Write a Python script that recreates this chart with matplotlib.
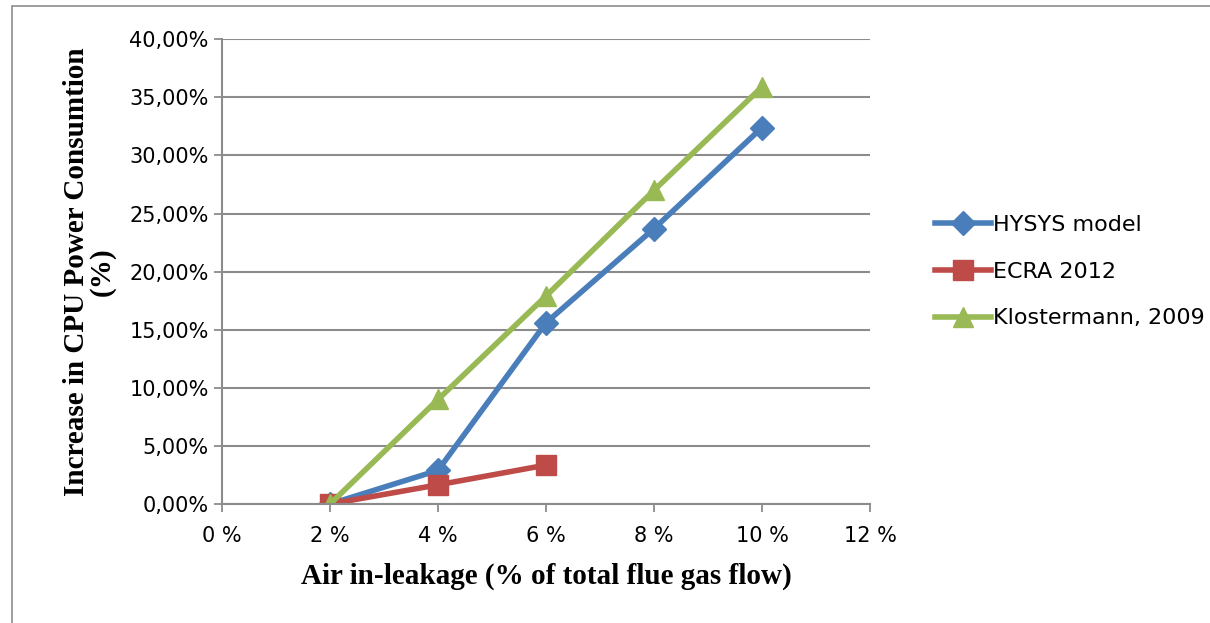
import matplotlib.pyplot as plt
from matplotlib.ticker import FuncFormatter
from matplotlib.patches import Rectangle

# data
air_leak = [2, 4, 6, 8, 10]
hysys = [0.0, 2.9, 15.6, 23.7, 32.4]
ecra_x = [2, 4, 6]
ecra = [0.0, 1.65, 3.35]
kloster = [0.0, 9.0, 17.9, 27.0, 35.9]

blue = '#4a7ebb'
red = '#be4b48'
green = '#98b954'

fig = plt.figure(figsize=(12.1, 6.23), dpi=100)
ax = fig.add_axes([0.1835, 0.191, 0.5355, 0.746])

ax.plot(air_leak, hysys, color=blue, lw=4, marker='D', ms=12, label='HYSYS model')
ax.plot(ecra_x, ecra, color=red, lw=4, marker='s', ms=14, label='ECRA 2012')
ax.plot(air_leak, kloster, color=green, lw=4, marker='^', ms=15, label='Klostermann, 2009')

ax.set_xlim(0, 12)
ax.set_ylim(0, 40)
ax.set_xticks(range(0, 13, 2))
ax.set_yticks(range(0, 41, 5))
ax.xaxis.set_major_formatter(FuncFormatter(lambda v, p: f'{int(v)} %'))
ax.yaxis.set_major_formatter(FuncFormatter(lambda v, p: f'{v:.2f}%'.replace('.', ',')))
ax.grid(axis='y', color='#8c8c8c', lw=1.5)
ax.set_axisbelow(True)
for s in ['top', 'right']:
    ax.spines[s].set_visible(False)
for s in ['left', 'bottom']:
    ax.spines[s].set_color('#8c8c8c')
    ax.spines[s].set_linewidth(1.5)
ax.tick_params(axis='both', colors='#8c8c8c', labelcolor='black', labelsize=15, length=6, width=1.3)
ax.tick_params(axis='x', pad=10)

ax.set_xlabel('Air in-leakage (% of total flue gas flow)', family='Liberation Serif',
              fontweight='bold', fontsize=21, labelpad=12)
ax.set_ylabel('Increase in CPU Power Consumtion\n(%)', family='Liberation Serif',
              fontweight='bold', fontsize=21, labelpad=10, linespacing=0.9)

leg = ax.legend(loc='center left', bbox_to_anchor=(1.07, 0.5), frameon=False,
                fontsize=16, handlelength=2.5, labelspacing=1.2, handletextpad=0.1)

fig.patches.append(Rectangle((0.01, -0.01), 1.2, 1.0, transform=fig.transFigure,
                             fill=False, edgecolor='#8c8c8c', lw=1.2))

fig.savefig('out.png', dpi=100)
